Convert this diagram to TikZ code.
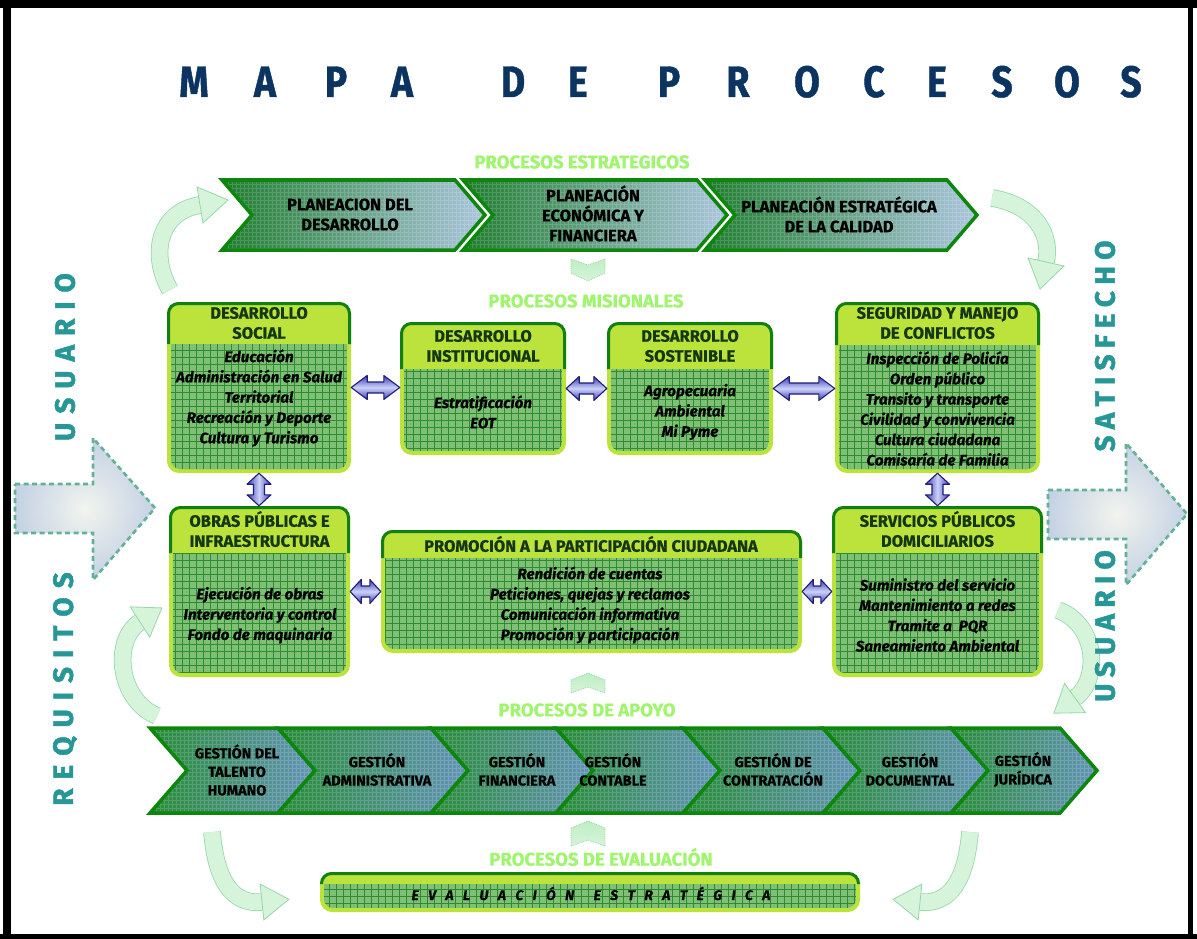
\documentclass[tikz,border=0pt]{standalone}
\usepackage{fontspec}
\setmainfont{Fira Sans}
\newfontfamily\condf[FakeBold=0.6]{Fira Sans}
\newfontfamily\bodyf[FakeBold=0.5]{Fira Sans}
\newfontfamily\titlef[FakeStretch=0.85,FakeBold=1]{Fira Sans}
\newfontfamily\vertf[FakeBold=1.6]{Fira Sans}
\usetikzlibrary{calc,fit}
\definecolor{navy}{RGB}{12,52,97}
\definecolor{seclab}{RGB}{160,245,110}
\definecolor{limec}{RGB}{188,226,60}
\definecolor{dkg}{RGB}{16,128,16}
\definecolor{bodyg}{RGB}{128,192,118}
\definecolor{gridg}{RGB}{45,140,45}
\definecolor{hdrc}{RGB}{20,55,20}
\definecolor{tchevL}{RGB}{30,125,45}
\definecolor{tchevR}{RGB}{172,198,222}
\definecolor{bchevL}{RGB}{40,140,55}
\definecolor{bchevR}{RGB}{100,148,185}
\definecolor{chevedge}{RGB}{12,135,12}
\definecolor{tealc}{RGB}{38,150,150}
\definecolor{palefill}{RGB}{214,244,218}
\definecolor{paletop}{RGB}{190,238,195}
\definecolor{paleedge}{RGB}{150,215,170}
\definecolor{arrblue}{RGB}{58,60,185}
\definecolor{arrlight}{RGB}{205,210,248}
\definecolor{arredge}{RGB}{30,30,120}
\definecolor{bigedge}{RGB}{100,178,150}
\definecolor{bigin}{RGB}{242,244,238}
\definecolor{bigout}{RGB}{196,210,228}
\tikzset{
 sect/.style={font=\condf\bfseries\fontsize{18.5}{19}\selectfont, text=seclab, inner sep=0pt},
 chevtxt/.style={font=\condf\bfseries\fontsize{16.5}{20}\selectfont, align=center, inner sep=0pt},
 gesttxt/.style={font=\condf\bfseries\fontsize{14.5}{18.5}\selectfont, align=center, inner sep=0pt},
 hdrtxt/.style={font=\condf\bfseries\fontsize{16.5}{20}\selectfont, text=hdrc, align=center, inner sep=0pt},
 bodytxt/.style={font=\bodyf\bfseries\itshape\fontsize{15.2}{20.3}\selectfont, align=center, inner sep=0pt},
 titlel/.style={font=\titlef\bfseries\fontsize{44}{44}\selectfont, text=navy, inner sep=0pt, anchor=base},
 vtxt/.style={font=\vertf\bfseries\fontsize{28}{28}\selectfont, text=tealc, rotate=90, inner sep=0pt},
 evaltxt/.style={font=\bodyf\bfseries\itshape\fontsize{14}{14}\selectfont, inner sep=0pt, anchor=base},
 tfill/.style={left color=tchevL, right color=tchevR},
 bfill/.style={left color=bchevL, right color=bchevR},
 chgrid/.style={white, opacity=0.16, line width=0.6pt, step=4pt},
 chedge/.style={draw=chevedge, line width=3.5pt, line join=miter},
 darr/.style={draw=arredge, line width=1.1pt, line join=round},
 hdarr/.style={top color=arrblue, bottom color=arrblue, middle color=arrlight,
   to path={let \p1=(\tikztostart), \p2=(\tikztotarget) in
   (\x1,\y1) -- (\x1+#1,\y1+12pt) -- (\x1+#1,\y1+5.5pt) -- (\x2-#1,\y1+5.5pt) -- (\x2-#1,\y1+12pt) -- (\x2,\y1)
   -- (\x2-#1,\y1-12pt) -- (\x2-#1,\y1-5.5pt) -- (\x1+#1,\y1-5.5pt) -- (\x1+#1,\y1-12pt) -- cycle}},
 hdarr/.default=16pt,
 vdarr/.style={left color=arrblue, right color=arrblue, middle color=arrlight,
   to path={let \p1=(\tikztostart), \p2=(\tikztotarget) in
   (\x1,\y1) -- (\x1+12pt,\y1-#1) -- (\x1+5.5pt,\y1-#1) -- (\x1+5.5pt,\y2+#1) -- (\x1+12pt,\y2+#1) -- (\x1,\y2)
   -- (\x1-12pt,\y2+#1) -- (\x1-5.5pt,\y2+#1) -- (\x1-5.5pt,\y1-#1) -- (\x1-12pt,\y1-#1) -- cycle}},
 vdarr/.default=11pt,
 palearr/.style={draw=paleedge, double=palefill, double distance=16pt, line width=0.8pt},
 palehead/.style={fill=palefill, draw=paleedge, line width=0.8pt, line join=miter},
 palechev/.style={top color=paletop, bottom color=palefill, draw=paleedge, densely dotted, line width=0.8pt},
 bigarr/.style={inner color=bigin, outer color=bigout, draw=bigedge, line width=2.6pt, dash pattern=on 5pt off 3.5pt},
}
\newcommand\chev[6]{%
 \def\chevpath{(#1,#3) -- (#2-#5,#3) -- (#2,{(#3+#4)/2}) -- (#2-#5,#4) -- (#1,#4) -- (#1+#5,{(#3+#4)/2}) -- cycle}%
 \fill[#6] \chevpath;
 \begin{scope}\clip \chevpath; \draw[chgrid] (#1,#3) grid (#2,#4); \end{scope}
 \draw[chedge] \chevpath;
}
\newcommand\pbox[6]{%
 \fill[limec, rounded corners=12pt] (#2,#3) rectangle (#4,#5);
 \begin{scope}
  \clip[rounded corners=9pt] (#2+4,#6-14) rectangle (#4-4,#5-4);
  \fill[bodyg] (#2+4,#6) rectangle (#4-4,#5-4);
  \draw[gridg, line width=0.6pt, step=7pt] (#2+4,#6) grid (#4-4,#5-4);
 \end{scope}
 \draw[dkg, line width=3pt, rounded corners=10pt] (#2+1.5,#6) -- (#2+1.5,#3+1.5) -- (#4-1.5,#3+1.5) -- (#4-1.5,#6);
 \node[fit={(#2,#3) (#4,#5)}, inner sep=0pt] (#1) {};
}
\newcommand\gp{\hspace{9.4pt}}
\newcommand\gl{\hspace{9pt}}
\newcommand\gr{\hspace{6.3pt}}
\begin{document}
\begin{tikzpicture}[x=1pt,y=-1pt]
\useasboundingbox (0,0) rectangle (1197,939);
\fill[white] (0,0) rectangle (1197,939);
\fill[black] (0,0) rectangle (1197,8);
\fill[black] (3,0) rectangle (11,939);
\fill[black] (1188,0) rectangle (1193,939);
\fill[black] (0,934) rectangle (1197,939);

% title
\foreach \lt/\xx [count=\i] in {M/194,A/265,P/336,A/402,D/513,E/578,P/669,R/738,O/807,C/874,E/937,S/1002,O/1067,S/1131}
  \node[titlel] (t\i) at (\xx,97) {\lt};

% pale curved arrows
\draw[palearr] (170,290) .. controls (150,255) and (158,212) .. (200,205);
\filldraw[palehead] (203,223) -- (228,200) -- (197,187) -- cycle;
\draw[palearr] (992,198) .. controls (1035,205) and (1052,235) .. (1046,262);
\filldraw[palehead] (1064,266) -- (1040,289) -- (1028,258) -- cycle;
\draw[palearr] (157,716) .. controls (118,700) and (112,640) .. (140,622);
\filldraw[palehead] (149.7,637.1) -- (161.9,607.9) -- (130.3,606.9) -- cycle;
\draw[palearr] (1058,610) .. controls (1098,625) and (1100,680) .. (1075,698);
\filldraw[palehead] (1085.5,712.6) -- (1053.9,713.2) -- (1064.5,683.4) -- cycle;
\draw[palearr] (212,832) .. controls (216,880) and (232,905) .. (262,902);
\filldraw[palehead] (263.8,919.9) -- (288.9,899.3) -- (260.2,884.1) -- cycle;
\draw[palearr] (970,832) .. controls (966,880) and (950,905) .. (920,902);
\filldraw[palehead] (918.2,919.9) -- (893.1,899.3) -- (921.8,884.1) -- cycle;

% big dashed arrows
\path[bigarr] (15,484) -- (93,484) -- (93,438) -- (155,508) -- (93,580) -- (93,533) -- (15,533) -- cycle;
\path[bigarr] (1048,490) -- (1126,490) -- (1126,443) -- (1187,514) -- (1126,585) -- (1126,539) -- (1048,539) -- cycle;

% vertical texts
\node[vtxt] (v1) at (65,357) {U\gl S\gl U\gl A\gl R\gl I\gl O};
\node[vtxt] (v2) at (65,689) {R\gl E\gl Q\gl U\gl I\gl S\gl I\gl T\gl O\gl S};
\node[vtxt] (v3) at (1105,346) {S\gr A\gr T\gr I\gr S\gr F\gr E\gr C\gr H\gr O};
\node[vtxt] (v4) at (1105,626) {U\gr S\gr U\gr A\gr R\gr I\gr O};

% section labels
\node[sect] (s1) at (582,162) {PROCESOS ESTRATEGICOS};
\node[sect] (s2) at (586,301) {PROCESOS MISIONALES};
\node[sect] (s3) at (587,710) {PROCESOS DE APOYO};
\node[sect] (s4) at (601,857) {PROCESOS DE EVALUACIÓN};

% pale small chevrons
\path[palechev] (571,259) -- (588,265) -- (605,259) -- (605,273) -- (588,281) -- (571,273) -- cycle;
\path[palechev] (571,680) -- (588,673) -- (605,680) -- (605,693) -- (588,687) -- (571,693) -- cycle;
\path[palechev] (571,828) -- (588,821) -- (605,828) -- (605,846) -- (588,840) -- (571,846) -- cycle;

% strategic chevrons
\chev{222}{485}{180}{250}{30}{tfill}
\chev{463}{727}{180}{250}{30}{tfill}
\chev{705}{977}{180}{250}{30}{tfill}
\node[chevtxt] (c1) at (350,214.5) {PLANEACION DEL\\DESARROLLO};
\node[chevtxt] (c2) at (593,213.5) {PLANEACIÓN\\ECONÓMICA Y\\FINANCIERA};
\node[chevtxt] (c3) at (839,214.5) {PLANEACIÓN ESTRATÉGICA\\DE LA CALIDAD};

% support chevrons
\chev{150}{315}{728}{813}{37}{bfill}
\chev{278}{468}{728}{813}{37}{bfill}
\chev{431}{593}{728}{813}{37}{bfill}
\chev{556}{720}{728}{813}{37}{bfill}
\chev{683}{860}{728}{813}{37}{bfill}
\chev{823}{988}{728}{813}{37}{bfill}
\chev{951}{1097}{728}{813}{37}{bfill}
\node[gesttxt] (g1) at (237,770) {GESTIÓN DEL\\TALENTO\\HUMANO};
\node[gesttxt] (g2) at (377,769.5) {GESTIÓN\\ADMINISTRATIVA};
\node[gesttxt] (g3) at (517,769.5) {GESTIÓN\\FINANCIERA};
\node[gesttxt] (g4) at (613,769.5) {GESTIÓN\\CONTABLE};
\node[gesttxt] (g5) at (773,769.5) {GESTIÓN DE\\CONTRATACIÓN};
\node[gesttxt] (g6) at (910,769.5) {GESTIÓN\\DOCUMENTAL};
\node[gesttxt] (g7) at (1023,769.5) {GESTIÓN\\JURÍDICA};

% process boxes
\pbox{ds}{167}{302}{351}{473}{344}
\pbox{di}{400}{322}{566}{455}{369}
\pbox{dso}{607}{322}{773}{455}{369}
\pbox{seg}{835}{302}{1040}{473}{345}
\pbox{obras}{169}{506}{350}{677}{553}
\pbox{prom}{381}{530}{802}{653}{558}
\pbox{serv}{832}{506}{1043}{677}{553}
\pbox{eval}{320}{872}{860}{912}{884}

% connectors
\draw[darr, hdarr] (ds.east) to (di.west);
\draw[darr, hdarr=13pt] (di.east) to (dso.west);
\draw[darr, hdarr] (dso.east) to (seg.west);
\draw[darr, hdarr=11pt] (obras.east) to (prom.west);
\draw[darr, hdarr=11pt] (prom.east) to (serv.west);
\draw[darr, vdarr] (ds.south) to (obras.north);
\draw[darr, vdarr] (seg.south) to (serv.north);

% headers
\node[hdrtxt] (ds-h) at (259,323) {DESARROLLO\\SOCIAL};
\node[hdrtxt] (di-h) at (483,346) {DESARROLLO\\INSTITUCIONAL};
\node[hdrtxt] (dso-h) at (690,346) {DESARROLLO\\SOSTENIBLE};
\node[hdrtxt] (seg-h) at (937.5,323) {SEGURIDAD Y MANEJO\\DE CONFLICTOS};
\node[hdrtxt] (obras-h) at (259.5,529) {OBRAS PÚBLICAS E\\INFRAESTRUCTURA};
\node[hdrtxt] (prom-h) at (591,544) {PROMOCIÓN A LA PARTICIPACIÓN CIUDADANA};
\node[hdrtxt] (serv-h) at (937.5,529) {SERVICIOS PÚBLICOS\\DOMICILIARIOS};

% bodies
\node[bodytxt] (ds-b) at (259,398) {Educación\\Administración en Salud\\Territorial\\Recreación y Deporte\\Cultura y Turismo};
\node[bodytxt] (di-b) at (483,412) {Estratificación\\EOT};
\node[bodytxt] (dso-b) at (690,412) {Agropecuaria\\Ambiental\\Mi Pyme};
\node[bodytxt] (seg-b) at (937.5,408.5) {Inspección de Policía\\Orden público\\Transito y transporte\\Civilidad y convivencia\\Cultura ciudadana\\Comisaría de Familia};
\node[bodytxt] (obras-b) at (260,615) {Ejecución de obras\\Interventoria y control\\Fondo de maquinaria};
\node[bodytxt] (prom-b) at (590,605) {Rendición de cuentas\\Peticiones, quejas y reclamos\\Comunicación informativa\\Promoción y participación};
\node[bodytxt] (serv-b) at (937.5,615) {Suministro del servicio\\Mantenimiento a redes\\Tramite a~ PQR\\Saneamiento Ambiental};
\node[evaltxt] (eval-t) at (591,900) {E\gp V\gp A\gp L\gp U\gp A\gp C\gp I\gp Ó\gp N\hspace{19.4pt}E\gp S\gp T\gp R\gp A\gp T\gp É\gp G\gp I\gp C\gp A};
\end{tikzpicture}
\end{document}
